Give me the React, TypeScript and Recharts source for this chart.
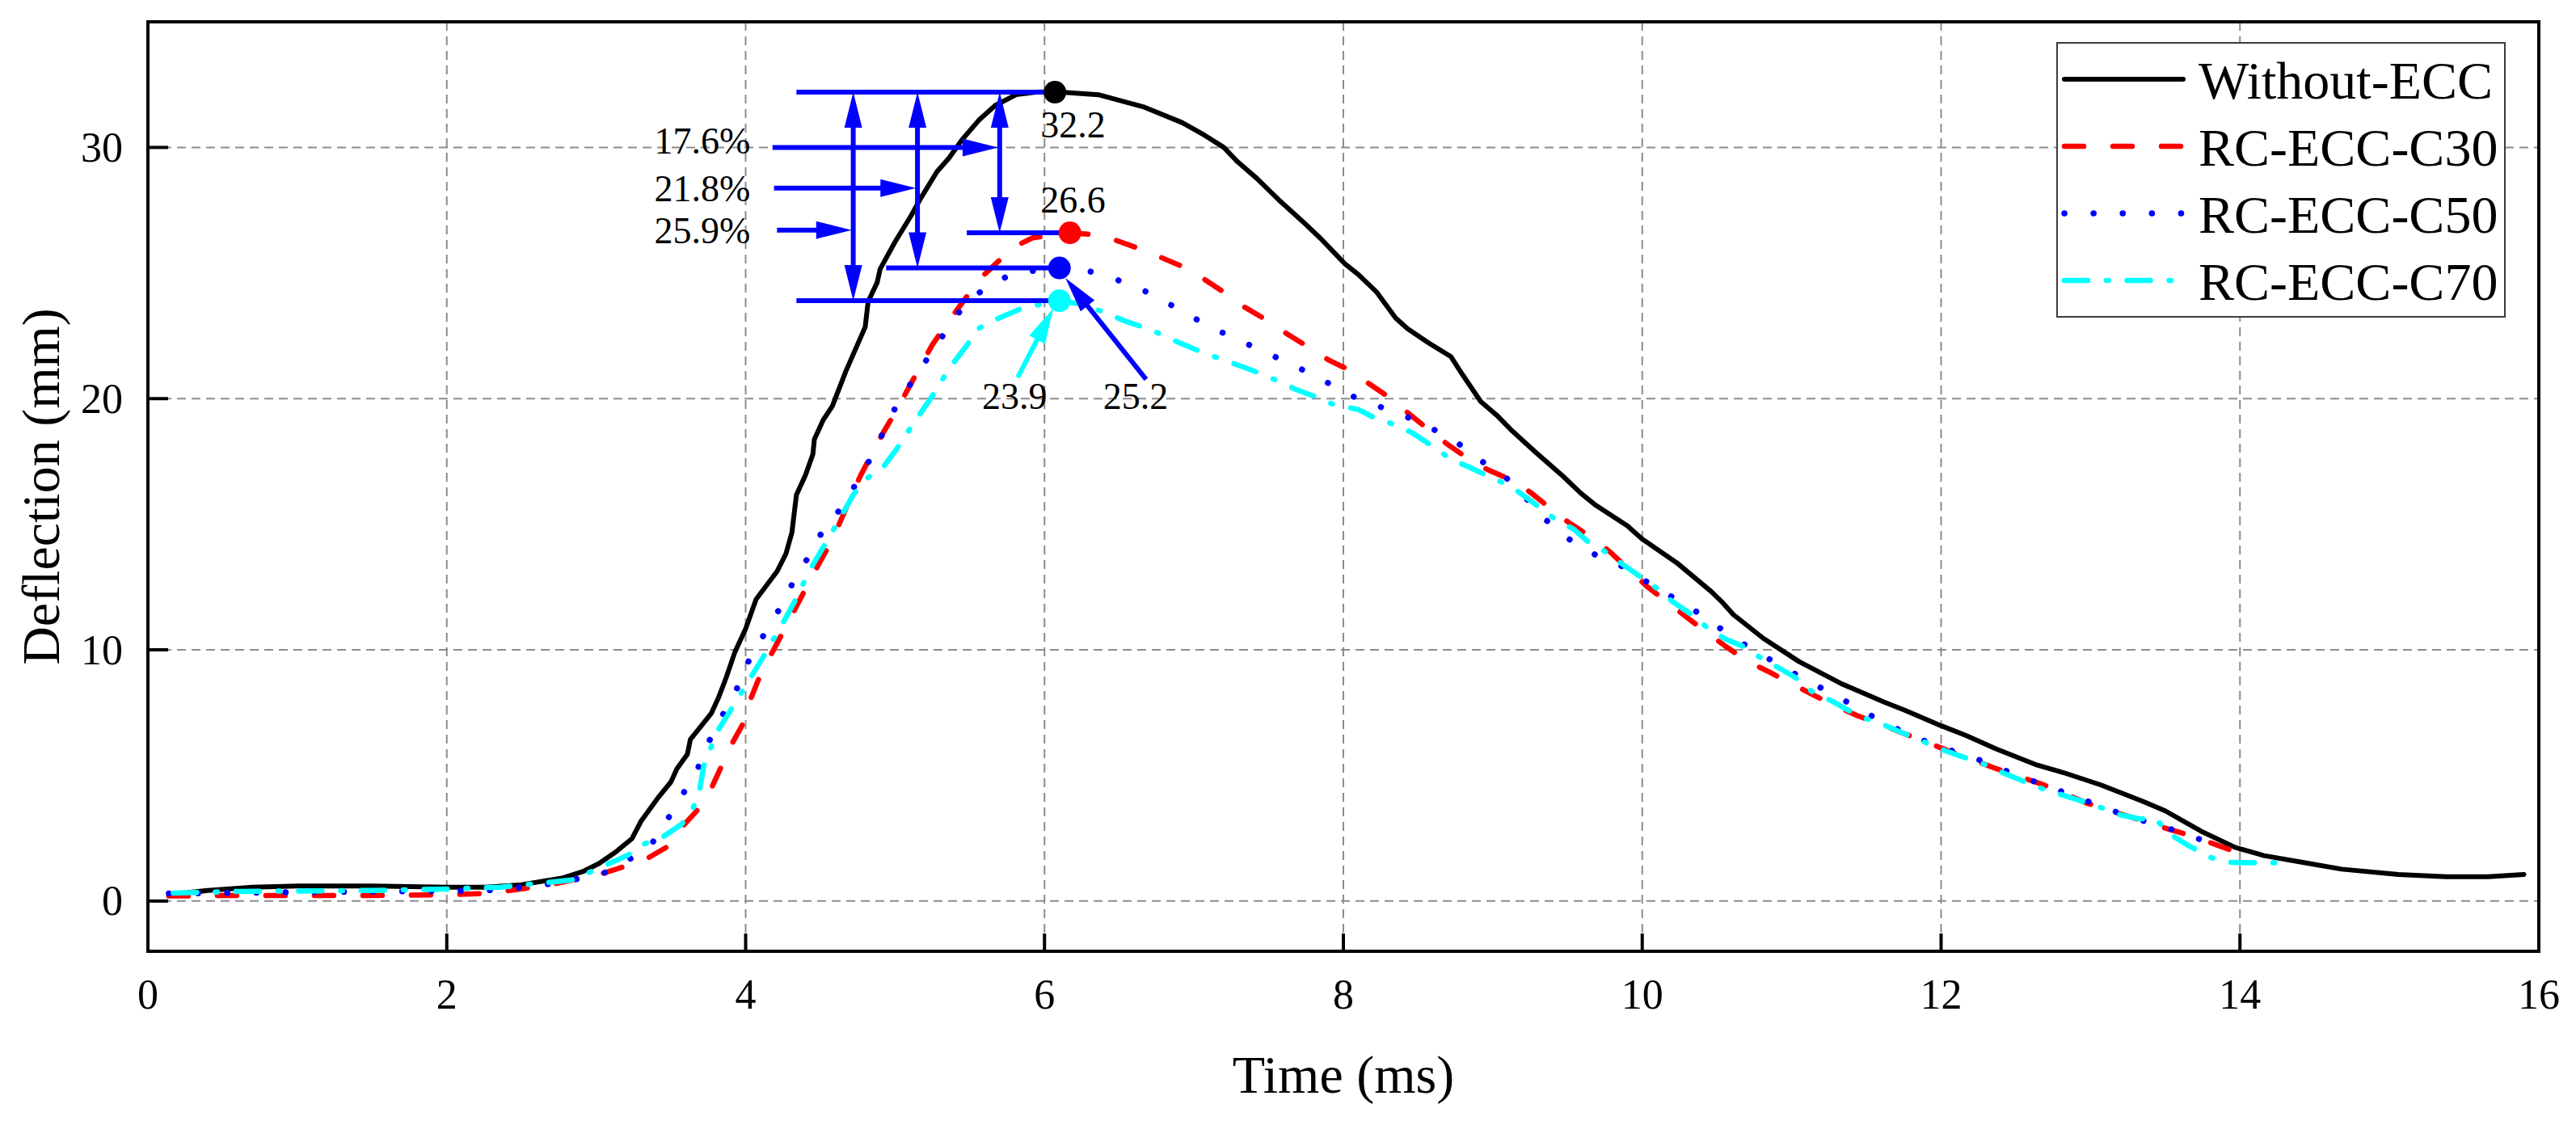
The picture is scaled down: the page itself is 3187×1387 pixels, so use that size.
import React from 'react';
import {
  LineChart,
  Line,
  XAxis,
  YAxis,
  CartesianGrid,
  Legend,
  ReferenceLine,
  ReferenceDot,
  ReferenceArea,
} from 'recharts';

const FONT = "'Liberation Serif', 'Times New Roman', Times, serif";

// [time (ms), deflection (mm)]
const WITHOUT_ECC: [number, number][] = [
  [0.14, 0.25], [0.4, 0.42], [0.7, 0.55], [1.0, 0.6], [1.5, 0.6], [2.0, 0.55], [2.26, 0.55],
  [2.5, 0.65], [2.77, 0.91], [2.91, 1.17], [3.02, 1.5], [3.13, 1.95], [3.24, 2.49], [3.3, 3.18],
  [3.42, 4.16], [3.5, 4.74], [3.54, 5.26], [3.61, 5.84], [3.63, 6.43], [3.7, 6.95], [3.77, 7.47],
  [3.82, 8.12], [3.87, 8.9], [3.93, 9.94], [4.0, 10.84], [4.07, 12.01], [4.21, 13.12], [4.27, 13.83],
  [4.31, 14.68], [4.32, 15.19], [4.34, 16.17], [4.4, 16.95], [4.45, 17.79], [4.46, 18.38],
  [4.52, 19.16], [4.58, 19.7], [4.67, 21.08], [4.8, 22.85], [4.82, 23.87], [4.88, 24.62],
  [4.9, 25.16], [5.0, 26.24], [5.11, 27.31], [5.17, 27.96], [5.28, 29.03], [5.36, 29.57],
  [5.45, 30.32], [5.56, 31.08], [5.67, 31.67], [5.81, 32.1], [5.94, 32.2], [6.07, 32.22],
  [6.36, 32.1], [6.67, 31.6], [6.92, 30.99], [7.07, 30.49], [7.2, 30.0], [7.29, 29.44],
  [7.42, 28.77], [7.57, 27.9], [7.73, 27.04], [7.85, 26.36], [7.94, 25.8], [8.01, 25.37],
  [8.1, 24.94], [8.22, 24.26], [8.35, 23.21], [8.43, 22.78], [8.57, 22.22], [8.72, 21.67],
  [8.8, 20.93], [8.92, 19.88], [9.03, 19.32], [9.12, 18.77], [9.28, 17.9], [9.47, 16.91],
  [9.59, 16.23], [9.69, 15.75], [9.9, 14.94], [10.0, 14.41], [10.23, 13.47], [10.46, 12.33],
  [10.53, 11.93], [10.61, 11.4], [10.81, 10.46], [11.05, 9.53], [11.33, 8.66], [11.62, 7.92],
  [11.76, 7.59], [12.0, 6.98], [12.17, 6.58], [12.37, 6.05], [12.63, 5.44], [12.82, 5.11],
  [13.07, 4.62], [13.35, 3.97], [13.5, 3.59], [13.74, 2.78], [13.97, 2.13], [14.16, 1.81],
  [14.42, 1.54], [14.68, 1.27], [15.06, 1.06], [15.38, 0.97], [15.66, 0.97], [15.9, 1.06],
];

const RC_ECC_C30: [number, number][] = [
  [0.14, 0.2], [0.5, 0.22], [1.0, 0.22], [1.5, 0.22], [2.0, 0.25], [2.26, 0.3], [2.65, 0.6],
  [3.01, 1.04], [3.32, 1.62], [3.47, 2.14], [3.55, 2.79], [3.67, 3.57], [3.76, 4.35], [3.84, 5.39],
  [3.9, 6.17], [3.99, 7.14], [4.03, 7.99], [4.1, 9.03], [4.17, 9.81], [4.25, 10.71], [4.33, 11.62],
  [4.41, 12.53], [4.48, 13.31], [4.57, 14.29], [4.63, 15.06], [4.72, 16.3], [4.77, 16.95],
  [4.85, 17.86], [4.92, 18.64], [5.01, 19.55], [5.17, 21.29], [5.25, 22.15], [5.35, 23.01],
  [5.45, 23.82], [5.56, 24.73], [5.79, 26.02], [5.92, 26.4], [6.17, 26.6], [6.3, 26.54],
  [6.47, 26.32], [6.64, 25.96], [6.78, 25.62], [6.95, 25.19], [7.07, 24.75], [7.21, 24.2],
  [7.34, 23.64], [7.48, 23.15], [7.62, 22.59], [7.77, 22.04], [7.9, 21.54], [8.05, 21.11],
  [8.18, 20.56], [8.32, 20.0], [8.43, 19.44], [8.57, 18.77], [8.69, 18.21], [8.84, 17.59],
  [8.97, 17.16], [9.16, 16.67], [9.26, 16.23], [9.4, 15.56], [9.51, 15.06], [9.67, 14.44],
  [9.79, 13.87], [9.92, 13.14], [10.03, 12.53], [10.19, 11.8], [10.29, 11.33], [10.44, 10.66],
  [10.56, 10.13], [10.71, 9.52], [10.85, 9.12], [11.02, 8.59], [11.15, 8.19], [11.31, 7.72],
  [11.44, 7.38], [11.62, 6.98], [11.76, 6.65], [12.05, 5.98], [12.35, 5.31], [12.68, 4.64],
  [12.97, 3.91], [13.16, 3.53], [13.31, 3.27], [13.48, 2.94], [13.62, 2.69], [13.79, 2.35],
  [13.93, 2.05],
];

const RC_ECC_C50: [number, number][] = [
  [0.14, 0.3], [0.5, 0.32], [1.0, 0.35], [1.5, 0.38], [2.0, 0.4], [2.26, 0.42], [2.6, 0.6],
  [3.03, 1.04], [3.35, 2.08], [3.47, 3.18], [3.57, 4.16], [3.67, 5.13], [3.75, 6.3], [3.84, 7.34],
  [3.94, 8.44], [4.02, 9.55], [4.12, 10.58], [4.22, 11.56], [4.31, 12.6], [4.42, 13.7],
  [4.51, 14.68], [4.63, 15.58], [4.74, 16.62], [4.84, 17.66], [4.93, 18.77], [5.01, 19.74],
  [5.23, 21.72], [5.34, 22.69], [5.48, 23.87], [5.61, 24.41], [5.79, 25.0], [6.1, 25.2],
  [6.27, 25.12], [6.45, 24.81], [6.64, 24.38], [6.81, 23.85], [6.98, 23.27], [7.15, 22.74],
  [7.34, 22.22], [7.52, 21.73], [7.7, 21.23], [7.88, 20.68], [8.05, 20.12], [8.24, 19.69],
  [8.43, 19.26], [8.6, 18.79], [8.77, 18.21], [8.92, 17.53], [9.08, 16.91], [9.22, 16.05],
  [9.34, 15.25], [9.5, 14.44], [9.69, 13.77], [9.87, 13.31], [10.04, 12.67], [10.21, 12.07],
  [10.37, 11.49], [10.53, 10.82], [10.7, 10.15], [10.88, 9.53], [11.05, 8.95], [11.22, 8.41],
  [11.4, 7.83], [11.57, 7.25], [11.75, 6.72], [11.94, 6.25], [12.13, 5.87], [12.31, 5.51],
  [12.49, 5.04], [12.68, 4.64], [12.86, 4.24], [13.04, 3.84], [13.25, 3.37], [13.44, 3.05],
  [13.62, 2.7], [13.85, 2.2],
];

const RC_ECC_C70: [number, number][] = [
  [0.17, 0.32], [0.6, 0.38], [1.0, 0.4], [1.5, 0.42], [2.0, 0.48], [2.36, 0.55], [2.84, 0.84],
  [3.21, 1.82], [3.32, 2.27], [3.44, 2.53], [3.57, 3.05], [3.64, 3.57], [3.69, 4.35], [3.72, 5.39],
  [3.81, 6.75], [3.9, 7.6], [4.02, 8.77], [4.12, 9.74], [4.24, 10.97], [4.33, 11.95], [4.43, 13.18],
  [4.52, 14.09], [4.64, 15.32], [4.72, 16.17], [4.81, 16.82], [4.92, 17.27], [5.01, 17.99],
  [5.14, 19.16], [5.25, 20.11], [5.36, 21.18], [5.47, 22.04], [5.56, 22.8], [5.68, 23.17],
  [5.83, 23.55], [5.94, 23.71], [6.1, 23.9], [6.24, 23.77], [6.39, 23.46], [6.53, 23.11],
  [6.72, 22.72], [6.88, 22.28], [7.03, 21.91], [7.17, 21.6], [7.31, 21.3], [7.45, 20.99],
  [7.57, 20.68], [7.68, 20.37], [7.82, 20.06], [7.94, 19.75], [8.1, 19.57], [8.22, 19.2],
  [8.35, 18.95], [8.46, 18.64], [8.57, 18.21], [8.72, 17.59], [8.84, 17.28], [8.97, 16.91],
  [9.11, 16.54], [9.2, 16.17], [9.31, 15.68], [9.42, 15.19], [9.54, 14.81], [9.63, 14.34],
  [9.78, 13.81], [9.87, 13.4], [9.98, 12.94], [10.11, 12.4], [10.2, 11.93], [10.31, 11.49],
  [10.44, 10.86], [10.56, 10.42], [10.67, 10.15], [10.81, 9.62], [10.92, 9.26], [11.02, 8.92],
  [11.14, 8.32], [11.27, 7.96], [11.38, 7.59], [11.53, 7.18], [11.63, 6.98], [11.92, 6.25],
  [12.03, 5.98], [12.32, 5.38], [12.41, 5.11], [12.69, 4.44], [12.91, 4.04], [13.09, 3.68],
  [13.2, 3.43], [13.33, 3.27], [13.43, 3.3], [13.47, 3.05], [13.56, 2.56], [13.66, 2.19],
  [13.81, 1.72], [13.93, 1.54], [14.06, 1.52], [14.24, 1.52],
];

const X_TICKS = [0, 2, 4, 6, 8, 10, 12, 14, 16];
const Y_TICKS = [0, 10, 20, 30];

// peak of each curve: time (ms), deflection (mm)
const PEAK_TIME = [6.07, 6.17, 6.1, 6.1];
const PEAK_VALUE = [32.2, 26.6, 25.2, 23.9];
// reduction of peak deflection vs Without-ECC
const REDUCTION = ['17.6%', '21.8%', '25.9%'];

const toPoints = (pairs: [number, number][]) => pairs.map(([t, d]) => ({ t, d }));

const SERIES = [
  { name: 'Without-ECC', data: toPoints(WITHOUT_ECC), color: '#000000', width: 6, dash: undefined as string | undefined },
  { name: 'RC-ECC-C30', data: toPoints(RC_ECC_C30), color: '#ff0000', width: 6.5, dash: '24 36' },
  { name: 'RC-ECC-C50', data: toPoints(RC_ECC_C50), color: '#0000ff', width: 7.5, dash: '0.1 36' },
  { name: 'RC-ECC-C70', data: toPoints(RC_ECC_C70), color: '#00ffff', width: 6.5, dash: '29 23 2.5 23' },
];

const BLUE = '#0000ff';
const HEAD_LEN = 44;
const HEAD_W = 22;

type Heads = 'none' | 'end' | 'both';

// line with triangular heads, coordinates come from the reference line scales
const arrowShape = (color: string, heads: Heads) => (p: any) => {
  const { x1, y1, x2, y2 } = p;
  const dx = x2 - x1;
  const dy = y2 - y1;
  const len = Math.hypot(dx, dy) || 1;
  const ux = dx / len;
  const uy = dy / len;
  const tri = (tx: number, ty: number, vx: number, vy: number) => {
    const bx = tx - vx * HEAD_LEN;
    const by = ty - vy * HEAD_LEN;
    const px = -vy * HEAD_W / 2;
    const py = vx * HEAD_W / 2;
    return `${tx},${ty} ${bx + px},${by + py} ${bx - px},${by - py}`;
  };
  const sx = heads === 'both' ? x1 + ux * (HEAD_LEN - 4) : x1;
  const sy = heads === 'both' ? y1 + uy * (HEAD_LEN - 4) : y1;
  const ex = heads !== 'none' ? x2 - ux * (HEAD_LEN - 4) : x2;
  const ey = heads !== 'none' ? y2 - uy * (HEAD_LEN - 4) : y2;
  return (
    <g>
      <line x1={sx} y1={sy} x2={ex} y2={ey} stroke={color} strokeWidth={6} />
      {heads !== 'none' && <polygon points={tri(x2, y2, ux, uy)} fill={color} />}
      {heads === 'both' && <polygon points={tri(x1, y1, -ux, -uy)} fill={color} />}
    </g>
  );
};

const textShape = (text: string) => (p: any) => (
  <text
    x={p.cx}
    y={p.cy}
    textAnchor="middle"
    dominantBaseline="central"
    fontSize={46}
    fontFamily={FONT}
    fill="#000"
  >
    {text}
  </text>
);

const XTick = (p: any) => (
  <text x={p.x} y={p.y + 37} textAnchor="middle" fontSize={52} fontFamily={FONT} fill="#000">
    {p.payload.value}
  </text>
);

const YTick = (p: any) => (
  <text x={p.x} y={p.y} textAnchor="end" dominantBaseline="central" fontSize={52} fontFamily={FONT} fill="#000">
    {p.payload.value}
  </text>
);

// annotation layout, in data coordinates
const LEVEL_START = [4.34, 5.48, 4.94, 4.34];
const SPAN_X = [5.7, 5.15, 4.72];
const POINTER = [
  { y: 30.0, from: 4.18, to: 5.69 },
  { y: 28.38, from: 4.19, to: 5.14 },
  { y: 26.71, from: 4.21, to: 4.71 },
];
const REDUCTION_POS = [
  { t: 3.71, d: 30.26 },
  { t: 3.71, d: 28.36 },
  { t: 3.71, d: 26.69 },
];
const PEAK_LABEL_POS = [
  { t: 6.19, d: 30.9 },
  { t: 6.19, d: 27.9 },
  { t: 6.61, d: 20.1 },
  { t: 5.8, d: 20.1 },
];

const LegendBox = () => (
  <div
    style={{
      width: 556,
      height: 341,
      boxSizing: 'border-box',
      border: '2px solid #3c3c3c',
      background: '#fff',
    }}
  >
    <svg width={552} height={337} style={{ display: 'block' }}>
      {SERIES.map((s, i) => {
        const cy = 44 + i * 83;
        return (
          <g key={s.name}>
            <line
              x1={8}
              x2={155}
              y1={cy}
              y2={cy}
              stroke={s.color}
              strokeWidth={s.width}
              strokeDasharray={s.dash}
              strokeLinecap="round"
            />
            <text x={174} y={cy + 24} fontSize={66} fontFamily={FONT} fill="#000">
              {s.name}
            </text>
          </g>
        );
      })}
    </svg>
  </div>
);

export default function App() {
  return (
    <div
      style={{
        position: 'absolute',
        left: 0,
        top: 0,
        width: 3187,
        height: 1387,
        background: '#fff',
        fontFamily: FONT,
      }}
    >
      <LineChart width={3187} height={1387} margin={{ top: 27, right: 46, bottom: 0, left: 0 }}>
        <CartesianGrid stroke="#8c8c8c" strokeDasharray="11 7" strokeWidth={2} />
        <XAxis
          dataKey="t"
          type="number"
          domain={[0, 16]}
          ticks={X_TICKS}
          interval={0}
          allowDataOverflow
          height={210}
          axisLine={false}
          tickSize={-22}
          tickMargin={56}
          tickLine={{ stroke: '#000', strokeWidth: 4 }}
          tick={<XTick />}
          label={{
            value: 'Time (ms)',
            position: 'insideBottom',
            offset: 35,
            fill: '#000',
            fontSize: 66,
            fontFamily: FONT,
          }}
        />
        <YAxis
          type="number"
          domain={[-2, 35]}
          ticks={Y_TICKS}
          interval={0}
          allowDataOverflow
          width={183}
          axisLine={false}
          tickSize={-25}
          tickMargin={56}
          tickLine={{ stroke: '#000', strokeWidth: 4 }}
          tick={<YTick />}
          label={{
            value: 'Deflection (mm)',
            angle: -90,
            position: 'insideLeft',
            offset: 50,
            fill: '#000',
            fontSize: 66,
            fontFamily: FONT,
            style: { textAnchor: 'middle' },
          }}
        />
        <ReferenceArea x1={0} x2={16} y1={-2} y2={35} fill="none" stroke="#000" strokeWidth={4} />
        {SERIES.map((s) => (
          <Line
            key={s.name}
            name={s.name}
            data={s.data}
            dataKey="d"
            type="linear"
            stroke={s.color}
            strokeWidth={s.width}
            strokeDasharray={s.dash}
            strokeLinecap="round"
            strokeLinejoin="round"
            dot={false}
            activeDot={false}
            isAnimationActive={false}
          />
        ))}
        <Legend
          layout="vertical"
          align="center"
          verticalAlign="middle"
          width={556}
          height={341}
          wrapperStyle={{ left: 2544, top: 52, right: 'auto', bottom: 'auto', width: 556, height: 341 }}
          content={() => <LegendBox />}
        />
        {PEAK_TIME.map((t, i) => (
          <ReferenceDot
            key={`peak-${i}`}
            x={t}
            y={PEAK_VALUE[i]}
            r={14}
            fill={SERIES[i].color}
            stroke="none"
          />
        ))}
        {PEAK_VALUE.map((v, i) => (
          <ReferenceLine
            key={`level-${i}`}
            segment={[
              { x: LEVEL_START[i], y: v },
              { x: PEAK_TIME[i], y: v },
            ]}
            shape={arrowShape(BLUE, 'none')}
          />
        ))}
        {SPAN_X.map((x, i) => (
          <ReferenceLine
            key={`span-${i}`}
            segment={[
              { x, y: PEAK_VALUE[0] },
              { x, y: PEAK_VALUE[i + 1] },
            ]}
            shape={arrowShape(BLUE, 'both')}
          />
        ))}
        {POINTER.map((p, i) => (
          <ReferenceLine
            key={`pointer-${i}`}
            segment={[
              { x: p.from, y: p.y },
              { x: p.to, y: p.y },
            ]}
            shape={arrowShape(BLUE, 'end')}
          />
        ))}
        <ReferenceLine
          segment={[
            { x: 5.82, y: 20.84 },
            { x: 6.06, y: 23.6 },
          ]}
          shape={arrowShape('#00ffff', 'end')}
        />
        <ReferenceLine
          segment={[
            { x: 6.68, y: 20.77 },
            { x: 6.14, y: 24.8 },
          ]}
          shape={arrowShape(BLUE, 'end')}
        />
        {REDUCTION.map((txt, i) => (
          <ReferenceDot
            key={`red-${i}`}
            x={REDUCTION_POS[i].t}
            y={REDUCTION_POS[i].d}
            r={1}
            shape={textShape(txt)}
          />
        ))}
        {PEAK_VALUE.map((v, i) => (
          <ReferenceDot
            key={`plabel-${i}`}
            x={PEAK_LABEL_POS[i].t}
            y={PEAK_LABEL_POS[i].d}
            r={1}
            shape={textShape(v.toFixed(1))}
          />
        ))}
      </LineChart>
    </div>
  );
}
